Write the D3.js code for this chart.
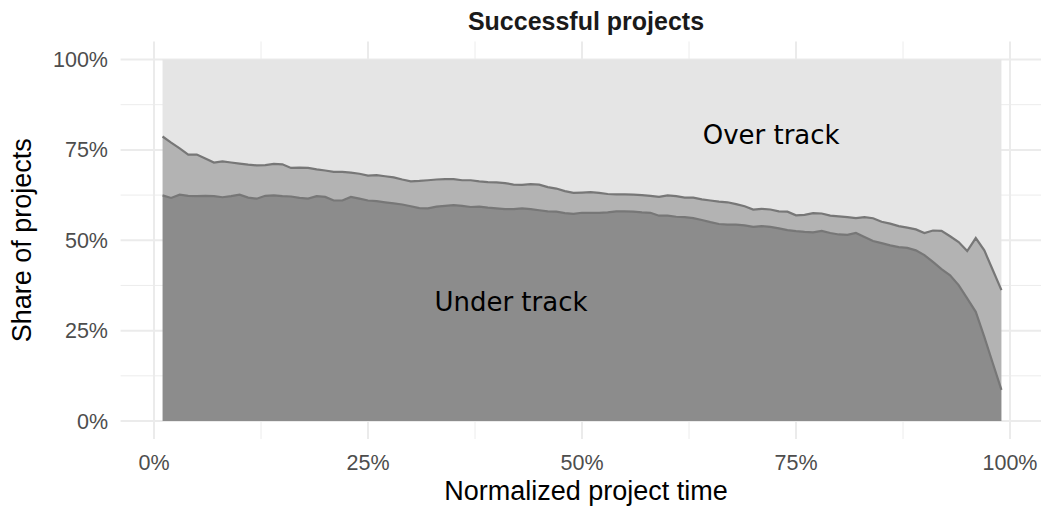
<!DOCTYPE html>
<html lang="en">
<head>
    <meta charset="UTF-8">
    <title>Successful projects</title>
    <script src="https://d3js.org/d3.v7.min.js"></script>
    <style>
        body { margin: 0; background: #fff; }
        .tick-label { font-family: "Liberation Sans", Arial, sans-serif; font-size: 21.5px; fill: #4d4d4d; }
        .axis-title { font-family: "Liberation Sans", Arial, sans-serif; font-size: 27px; fill: #000; }
        .plot-title { font-family: "Liberation Sans", Arial, sans-serif; font-size: 25px; font-weight: bold; fill: #1a1a1a; }
        .note { font-family: "DejaVu Sans", sans-serif; font-size: 26px; fill: #000; }
    </style>
</head>
<body>
    <svg width="1041" height="506"></svg>

    <script>
        // normalized project time (%)
        const time = [
            1, 2, 3, 4, 5, 6, 7, 8, 9, 10, 11, 12, 13, 14, 15, 16, 17, 18, 19, 20,
            21, 22, 23, 24, 25, 26, 27, 28, 29, 30, 31, 32, 33, 34, 35, 36, 37, 38, 39, 40,
            41, 42, 43, 44, 45, 46, 47, 48, 49, 50, 51, 52, 53, 54, 55, 56, 57, 58, 59, 60,
            61, 62, 63, 64, 65, 66, 67, 68, 69, 70, 71, 72, 73, 74, 75, 76, 77, 78, 79, 80,
            81, 82, 83, 84, 85, 86, 87, 88, 89, 90, 91, 92, 93, 94, 95, 96, 97, 98, 99
        ];

        // share of projects under track (%)
        const underTrack = [
            62.4, 61.7, 62.6, 62.3, 62.2, 62.3, 62.2, 61.9, 62.2, 62.6,
            61.8, 61.5, 62.3, 62.4, 62.2, 62.1, 61.7, 61.5, 62.2, 62.0,
            61.0, 61.0, 62.0, 61.5, 61.0, 60.8, 60.5, 60.2, 59.9, 59.4,
            58.9, 58.8, 59.3, 59.5, 59.7, 59.5, 59.2, 59.3, 59.0, 58.8,
            58.6, 58.6, 58.8, 58.6, 58.3, 58.0, 57.9, 57.5, 57.3, 57.6,
            57.6, 57.6, 57.7, 58.0, 58.0, 57.9, 57.7, 57.6, 56.8, 56.8,
            56.5, 56.4, 56.1, 55.6, 55.0, 54.5, 54.3, 54.3, 54.1, 53.7,
            53.9, 53.7, 53.3, 52.8, 52.5, 52.3, 52.2, 52.6, 52.0, 51.6,
            51.5, 52.0, 50.9, 49.8, 49.2, 48.6, 48.1, 47.9, 47.2, 45.9,
            44.0, 42.0, 40.3, 37.6, 33.9, 30.2, 23.3, 15.9, 8.6
        ];

        // share of projects not over track (under + on track, %)
        const notOverTrack = [
            78.7, 77.0, 75.4, 73.7, 73.7, 72.6, 71.5, 71.8, 71.5, 71.2,
            70.9, 70.7, 70.8, 71.1, 71.0, 70.0, 70.1, 70.0, 69.6, 69.3,
            68.9, 68.9, 68.7, 68.4, 67.9, 68.0, 67.7, 67.4, 66.8, 66.3,
            66.4, 66.6, 66.8, 66.9, 66.9, 66.6, 66.6, 66.3, 66.1, 66.0,
            65.8, 65.4, 65.3, 65.5, 65.4, 64.7, 64.3, 63.6, 63.1, 63.2,
            63.3, 63.1, 62.8, 62.7, 62.7, 62.6, 62.5, 62.3, 62.0, 62.4,
            62.2, 61.8, 61.8, 61.3, 61.0, 60.7, 60.5, 60.0, 59.4, 58.5,
            58.7, 58.5, 58.0, 57.9, 56.9, 57.0, 57.5, 57.4, 56.8, 56.6,
            56.4, 56.1, 56.4, 56.1, 55.1, 54.6, 53.9, 53.5, 53.0, 52.0,
            52.7, 52.6, 51.1, 49.5, 47.0, 50.6, 47.2, 41.7, 36.2
        ];

        const xTicks = [0, 25, 50, 75, 100];
        const yTicks = [0, 25, 50, 75, 100];
        const xMinor = [12.5, 37.5, 62.5, 87.5];
        const yMinor = [12.5, 37.5, 62.5, 87.5];

        const data = time.map((t, i) => ({ t: t, under: underTrack[i], upper: notOverTrack[i] }));

        const svg = d3.select("svg");

        const x = d3.scaleLinear().domain([0, 100]).range([154, 1010]);
        const y = d3.scaleLinear().domain([0, 100]).range([421, 59.5]);

        // panel extends 5% beyond the data range
        const panelX = [x(-3.9), x(103.9)];
        const panelY = [y(-5), y(105)];

        const grid = svg.append("g");
        grid.selectAll(".ymin").data(yMinor).enter().append("line")
            .attr("x1", panelX[0]).attr("x2", panelX[1])
            .attr("y1", d => y(d)).attr("y2", d => y(d))
            .attr("stroke", "#ececec").attr("stroke-width", 1);
        grid.selectAll(".xmin").data(xMinor).enter().append("line")
            .attr("y1", panelY[0]).attr("y2", panelY[1])
            .attr("x1", d => x(d)).attr("x2", d => x(d))
            .attr("stroke", "#ececec").attr("stroke-width", 1);
        grid.selectAll(".ymaj").data(yTicks).enter().append("line")
            .attr("x1", panelX[0]).attr("x2", panelX[1])
            .attr("y1", d => y(d)).attr("y2", d => y(d))
            .attr("stroke", "#ebebeb").attr("stroke-width", 2);
        grid.selectAll(".xmaj").data(xTicks).enter().append("line")
            .attr("y1", panelY[0]).attr("y2", panelY[1])
            .attr("x1", d => x(d)).attr("x2", d => x(d))
            .attr("stroke", "#ebebeb").attr("stroke-width", 2);

        // stacked areas
        const areaOver = d3.area().x(d => x(d.t)).y0(d => y(d.upper)).y1(() => y(100));
        const areaOn = d3.area().x(d => x(d.t)).y0(d => y(d.under)).y1(d => y(d.upper));
        const areaUnder = d3.area().x(d => x(d.t)).y0(() => y(0)).y1(d => y(d.under));

        svg.append("path").datum(data).attr("d", areaOver).attr("fill", "#e5e5e5");
        svg.append("path").datum(data).attr("d", areaOn).attr("fill", "#b3b3b3");
        svg.append("path").datum(data).attr("d", areaUnder).attr("fill", "#8c8c8c");

        const lineUpper = d3.line().x(d => x(d.t)).y(d => y(d.upper));
        const lineUnder = d3.line().x(d => x(d.t)).y(d => y(d.under));
        svg.append("path").datum(data).attr("d", lineUpper)
            .attr("fill", "none").attr("stroke", "#777").attr("stroke-width", 2.2);
        svg.append("path").datum(data).attr("d", lineUnder)
            .attr("fill", "none").attr("stroke", "#777").attr("stroke-width", 2.2);

        // tick labels
        svg.selectAll(".xlab").data(xTicks).enter().append("text")
            .attr("class", "tick-label")
            .attr("x", d => x(d)).attr("y", 470)
            .attr("text-anchor", "middle")
            .text(d => d + "%");
        svg.selectAll(".ylab").data(yTicks).enter().append("text")
            .attr("class", "tick-label")
            .attr("x", 108).attr("y", d => y(d) + 7.5)
            .attr("text-anchor", "end")
            .text(d => d + "%");

        // titles
        svg.append("text").attr("class", "plot-title")
            .attr("x", (panelX[0] + panelX[1]) / 2 + 4).attr("y", 30)
            .attr("text-anchor", "middle").text("Successful projects");
        svg.append("text").attr("class", "axis-title")
            .attr("x", (panelX[0] + panelX[1]) / 2 + 4).attr("y", 500)
            .attr("text-anchor", "middle").text("Normalized project time");
        svg.append("text").attr("class", "axis-title")
            .attr("transform", `translate(31,${(panelY[0] + panelY[1]) / 2}) rotate(-90)`)
            .attr("text-anchor", "middle").text("Share of projects");

        // annotations
        svg.append("text").attr("class", "note")
            .attr("x", x(72.1)).attr("y", y(79) + 9)
            .attr("text-anchor", "middle").text("Over track");
        svg.append("text").attr("class", "note")
            .attr("x", x(41.7)).attr("y", y(33) + 9)
            .attr("text-anchor", "middle").text("Under track");
    </script>
</body>
</html>
